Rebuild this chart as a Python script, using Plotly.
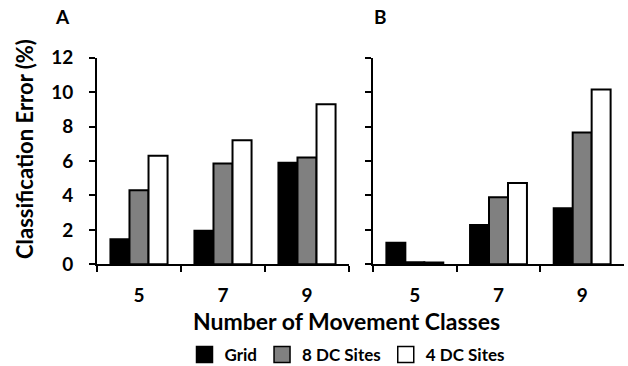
import plotly.graph_objects as go

categories = ["5", "7", "9"]
series_names = ["Grid", "8 DC Sites", "4 DC Sites"]
panel_a = {
    "Grid": [1.45, 1.95, 5.9],
    "8 DC Sites": [4.3, 5.85, 6.2],
    "4 DC Sites": [6.3, 7.2, 9.3],
}
panel_b = {
    "Grid": [1.25, 2.28, 3.25],
    "8 DC Sites": [0.12, 3.9, 7.65],
    "4 DC Sites": [0.1, 4.72, 10.15],
}
y_ticks = [0, 2, 4, 6, 8, 10, 12]
colors = {"Grid": "#000000", "8 DC Sites": "#808080", "4 DC Sites": "#ffffff"}

FONT = "Lato"
W, H = 628, 366
fig = go.Figure()
for name in series_names:
    fig.add_trace(go.Bar(x=categories, y=panel_a[name], name=name,
                         marker=dict(color=colors[name], line=dict(color="black", width=2)),
                         xaxis="x", yaxis="y", showlegend=False))
for name in series_names:
    fig.add_trace(go.Bar(x=categories, y=panel_b[name], name=name,
                         marker=dict(color=colors[name], line=dict(color="black", width=2)),
                         xaxis="x2", yaxis="y2", showlegend=False))
# legend entries (square swatches)
for name in series_names:
    fig.add_trace(go.Scatter(x=[None], y=[None], name=name, mode="markers",
                             marker=dict(symbol="square", size=16, color=colors[name],
                                         line=dict(color="black", width=1.5)),
                             xaxis="x", yaxis="y", showlegend=True))

tickfont = dict(family=FONT, size=19, color="black", weight=700)
xcommon = dict(type="category", showline=True, linecolor="black", linewidth=2,
               ticks="outside", ticklen=6, tickwidth=2, tickcolor="black",
               tickson="boundaries", showgrid=False, zeroline=False,
               tickfont=tickfont, range=[-0.5, 2.5], ticklabelstandoff=13)
ycommon = dict(range=[0, 12], tickvals=y_ticks, showline=True, linecolor="black", linewidth=2,
               ticks="outside", ticklen=6, tickwidth=2, tickcolor="black",
               showgrid=False, zeroline=False, tickfont=tickfont, ticklabelstandoff=12)

fig.update_layout(
    width=W, height=H,
    margin=dict(l=0, r=0, t=0, b=0, autoexpand=False),
    paper_bgcolor="white", plot_bgcolor="white",
    barmode="group", bargap=0.32, bargroupgap=0,
    xaxis=dict(domain=[97/W, 349/W], anchor="y", **xcommon),
    yaxis=dict(domain=[1-264.3/H, 1-57.7/H], anchor="x", **ycommon),
    xaxis2=dict(domain=[373/W, 624/W], anchor="y2", **xcommon),
    yaxis2=dict(domain=[1-264.3/H, 1-57.7/H], anchor="x2", showticklabels=False, **ycommon),
    legend=dict(orientation="h", x=347/W, xanchor="center", y=1-355/H, yanchor="middle",
                font=dict(family=FONT, size=17, color="black", weight=700),
                itemwidth=30, bgcolor="rgba(0,0,0,0)"),
    showlegend=True,
)
fig.add_annotation(text="A", x=62/W, y=1-16.5/H, xref="paper", yref="paper", showarrow=False,
                   xanchor="center", yanchor="middle",
                   font=dict(family=FONT, size=19, color="black", weight=700))
fig.add_annotation(text="B", x=380/W, y=1-16.5/H, xref="paper", yref="paper", showarrow=False,
                   xanchor="center", yanchor="middle",
                   font=dict(family=FONT, size=19, color="black", weight=700))
fig.add_annotation(text="Number of Movement Classes", x=346/W, y=1-321/H, xref="paper", yref="paper",
                   showarrow=False, xanchor="center", yanchor="middle",
                   font=dict(family=FONT, size=23, color="black", weight=700))
fig.add_annotation(text="Classification Error (%)", x=24/W, y=1-149/H, xref="paper", yref="paper",
                   showarrow=False, textangle=-90, xanchor="center", yanchor="middle",
                   font=dict(family=FONT, size=22, color="black", weight=700))

fig.write_html("out.html")
